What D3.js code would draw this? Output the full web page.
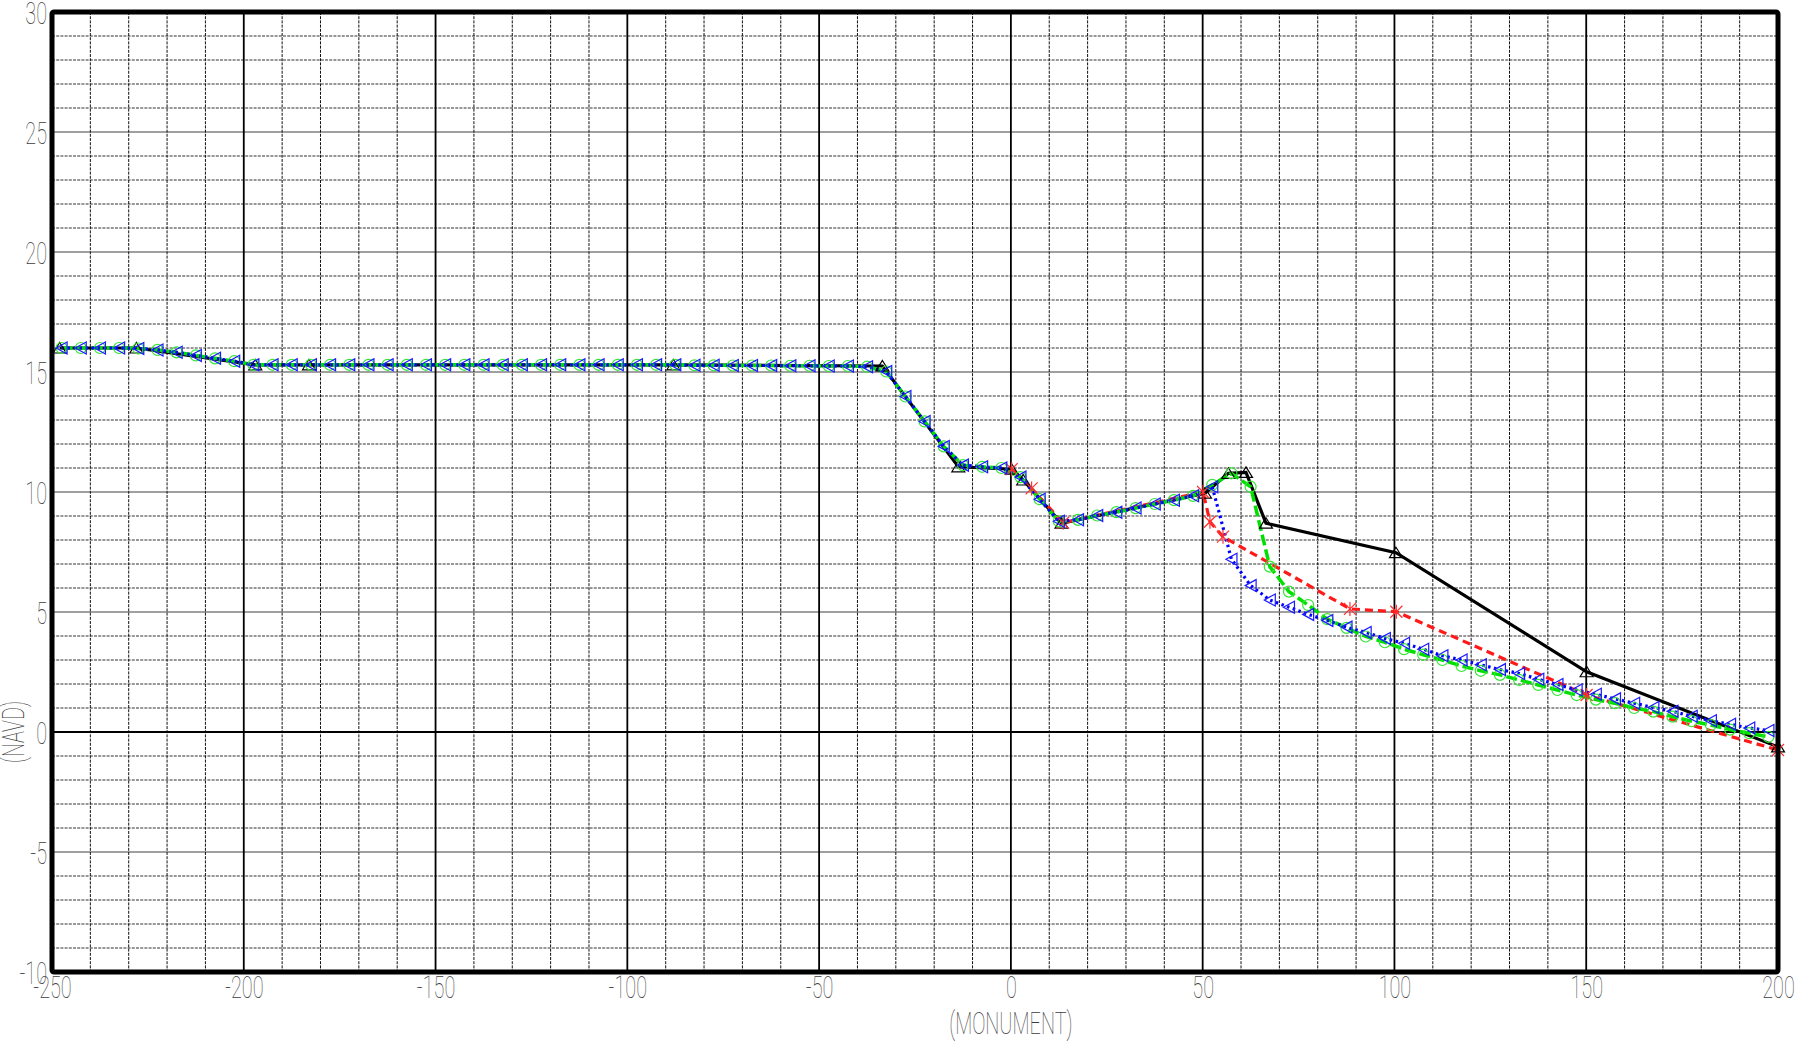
<!DOCTYPE html>
<html lang="en">
<head>
<meta charset="utf-8">
<title>Profile</title>
<script src="https://cdnjs.cloudflare.com/ajax/libs/d3/7.8.5/d3.min.js"></script>
<style>
  body { margin: 0; background: #fff; }
  svg { display: block; }
</style>
</head>
<body>
<div class="graph"></div>
<script>
// tick labels
const xTickVals = [-250, -200, -150, -100, -50, 0, 50, 100, 150, 200];
const xTickLabels = ['-250', '-200', '-150', '-100', '-50', '0', '50', '100', '150', '200'];
const yTickVals = [-10, -5, 0, 5, 10, 15, 20, 25, 30];
const yTickLabels = ['-10', '-5', '0', '5', '10', '15', '20', '25', '30'];

// black profile (solid, triangles)
const blackX = [-248, -228, -197, -183, -88, -33.5, -13.7, 0.2, 3.2, 13.2, 50.6, 56.7, 61.3, 66.5, 100.4, 150.1, 200];
const blackY = [16.0, 16.0, 15.3, 15.3, 15.3, 15.25, 11.05, 10.95, 10.5, 8.7, 9.95, 10.78, 10.82, 8.7, 7.47, 2.51, -0.62];

// red profile (dashed, stars)
const redX = [0.2, 5.4, 13.6, 50.1, 51.9, 55.3, 88.4, 100.5, 150.1, 200];
const redY = [10.95, 10.15, 8.72, 10.0, 8.76, 8.14, 5.13, 5.01, 1.54, -0.75];

// stations shared by green and blue profiles
const stations = [-247.5, -242.5, -237.5, -232.5, -227.5, -222.5, -217.5, -212.5, -207.5, -202.5,
  -197.5, -192.5, -187.5, -182.5, -177.5, -172.5, -167.5, -162.5, -157.5, -152.5,
  -147.5, -142.5, -137.5, -132.5, -127.5, -122.5, -117.5, -112.5, -107.5, -102.5,
  -97.5, -92.5, -87.5, -82.5, -77.5, -72.5, -67.5, -62.5, -57.5, -52.5,
  -47.5, -42.5, -37.5, -32.5, -27.5, -22.5, -17.5, -12.5, -7.5, -2.5,
  2.5, 7.5, 12.5, 17.5, 22.5, 27.5, 32.5, 37.5, 42.5, 47.5,
  52.5, 57.5, 62.5, 67.5, 72.5, 77.5, 82.5, 87.5, 92.5, 97.5,
  102.5, 107.5, 112.5, 117.5, 122.5, 127.5, 132.5, 137.5, 142.5, 147.5,
  152.5, 157.5, 162.5, 167.5, 172.5, 177.5, 182.5, 187.5, 192.5, 197.5];

// green profile (dashed, circles)
const greenY = [16.0, 16.0, 16.0, 16.0, 15.98, 15.92, 15.82, 15.69, 15.57, 15.45,
  15.3, 15.3, 15.3, 15.3, 15.3, 15.3, 15.3, 15.3, 15.3, 15.3,
  15.3, 15.3, 15.3, 15.3, 15.3, 15.3, 15.3, 15.3, 15.3, 15.3,
  15.3, 15.3, 15.3, 15.28, 15.28, 15.27, 15.27, 15.27, 15.26, 15.26,
  15.25, 15.25, 15.22, 15.02, 13.98, 12.94, 11.9, 11.12, 11.05, 11.0,
  10.62, 9.7, 8.78, 8.84, 9.02, 9.16, 9.33, 9.5, 9.66, 9.84,
  10.3, 10.78, 10.22, 6.89, 5.85, 5.29, 4.7, 4.34, 3.98, 3.74,
  3.45, 3.22, 3.0, 2.75, 2.55, 2.38, 2.17, 1.96, 1.75, 1.54,
  1.35, 1.2, 1.0, 0.85, 0.64, 0.45, 0.29, 0.1, -0.05, -0.2];

// blue profile (dotted, left triangles)
const blueY = [16.0, 16.0, 16.0, 16.0, 15.98, 15.92, 15.82, 15.69, 15.57, 15.45,
  15.3, 15.3, 15.3, 15.3, 15.3, 15.3, 15.3, 15.3, 15.3, 15.3,
  15.3, 15.3, 15.3, 15.3, 15.3, 15.3, 15.3, 15.3, 15.3, 15.3,
  15.3, 15.3, 15.3, 15.28, 15.28, 15.27, 15.27, 15.27, 15.26, 15.26,
  15.25, 15.25, 15.22, 15.02, 13.98, 12.94, 11.9, 11.12, 11.05, 11.0,
  10.62, 9.7, 8.78, 8.84, 9.02, 9.16, 9.33, 9.5, 9.66, 9.84,
  10.22, 7.2, 6.1, 5.5, 5.2, 4.9, 4.65, 4.37, 4.15, 3.9,
  3.7, 3.45, 3.18, 3.0, 2.8, 2.6, 2.44, 2.2, 1.98, 1.75,
  1.57, 1.38, 1.2, 1.02, 0.86, 0.66, 0.47, 0.32, 0.17, 0.06];

const w = 1801;
const h = 1043;
const padL = 52, padR = 1778, padT = 12, padB = 972;
const sx = 0.62; // narrow plotter-style text
const textCol = '#3c3c3c';
const font = 'Roboto, Lato, "DejaVu Sans", sans-serif';

const xScale = d3.scaleLinear().domain([-250, 200]).range([padL, padR]);
const yScale = d3.scaleLinear().domain([-10, 30]).range([padB, padT]);

const svg = d3.select('.graph')
  .append('svg')
  .attr('width', w)
  .attr('height', h);

// grid
const grid = svg.append('g').attr('class', 'grid');
const xMinor = d3.range(-240, 200, 10).filter(d => d % 50 !== 0);
const xMajor = d3.range(-200, 200, 50);
const yMinor = d3.range(-9, 30, 1).filter(d => d % 5 !== 0);
const yMajor = [-5, 5, 10, 15, 20, 25];

grid.selectAll('.hminor').data(yMinor).enter().append('line')
  .attr('x1', padL).attr('x2', padR)
  .attr('y1', d => yScale(d)).attr('y2', d => yScale(d))
  .attr('stroke', '#777').attr('stroke-width', 1.3)
  .attr('stroke-dasharray', '3,1.2');
grid.selectAll('.hmajor').data(yMajor).enter().append('line')
  .attr('x1', padL).attr('x2', padR)
  .attr('y1', d => yScale(d)).attr('y2', d => yScale(d))
  .attr('stroke', '#808080').attr('stroke-width', 1.4);
grid.selectAll('.vminor').data(xMinor).enter().append('line')
  .attr('y1', padT).attr('y2', padB)
  .attr('x1', d => xScale(d)).attr('x2', d => xScale(d))
  .attr('stroke', '#111').attr('stroke-width', 1)
  .attr('stroke-dasharray', '3,1.2');
grid.selectAll('.vmajor').data(xMajor).enter().append('line')
  .attr('y1', padT).attr('y2', padB)
  .attr('x1', d => xScale(d)).attr('x2', d => xScale(d))
  .attr('stroke', '#000').attr('stroke-width', 1.8);
grid.append('line')
  .attr('x1', padL).attr('x2', padR)
  .attr('y1', yScale(0)).attr('y2', yScale(0))
  .attr('stroke', '#000').attr('stroke-width', 1.8);

// marker shapes
const triUp = { draw(c) { c.moveTo(0, -5.5); c.lineTo(6.5, 5); c.lineTo(-6.5, 5); c.closePath(); } };
const triLeft = { draw(c) { c.moveTo(-5.5, 0); c.lineTo(5.5, -6); c.lineTo(5.5, 6); c.closePath(); } };
const star = { draw(c) {
  c.moveTo(-6, -6); c.lineTo(6, 6); c.moveTo(-6, 6); c.lineTo(6, -6);
  c.moveTo(0, -7); c.lineTo(0, 7);
} };

const line = d3.line().x(d => xScale(d[0])).y(d => yScale(d[1]));

const series = [
  { name: 'black', pts: blackX.map((d, i) => [d, blackY[i]]), col: '#000', width: 3.2, dash: null, shape: triUp, mcol: '#000' },
  { name: 'red', pts: redX.map((d, i) => [d, redY[i]]), col: '#ff1a1a', width: 3.2, dash: '8,5', shape: star, mcol: '#ff3030' },
  { name: 'green', pts: stations.map((d, i) => [d, greenY[i]]), col: '#00e000', width: 3.5, dash: '11,4', shape: d3.symbolCircle, mcol: '#33e633' },
  { name: 'blue', pts: stations.map((d, i) => [d, blueY[i]]), col: '#0000ff', width: 3.2, dash: '2.5,3.5', shape: triLeft, mcol: '#1a1aff' }
];

series.forEach(s => {
  svg.append('path')
    .datum(s.pts)
    .attr('class', 'line-' + s.name)
    .attr('d', line)
    .attr('fill', 'none')
    .attr('stroke', s.col)
    .attr('stroke-width', s.width)
    .attr('stroke-dasharray', s.dash);
});

series.forEach(s => {
  svg.append('g').attr('class', 'marks-' + s.name)
    .selectAll('path')
    .data(s.pts)
    .enter()
    .append('path')
    .attr('transform', d => 'translate(' + xScale(d[0]) + ',' + yScale(d[1]) + ')')
    .attr('d', d3.symbol().type(s.shape).size(95))
    .attr('fill', 'none')
    .attr('stroke', s.mcol)
    .attr('stroke-width', 1.2);
});

// frame
svg.append('rect')
  .attr('x', padL).attr('y', padT)
  .attr('width', padR - padL).attr('height', padB - padT)
  .attr('rx', 2)
  .attr('fill', 'none')
  .attr('stroke', '#000')
  .attr('stroke-width', 5);

// axes
const yAxis = d3.axisLeft(yScale)
  .tickValues(yTickVals)
  .tickFormat((d, i) => yTickLabels[i])
  .tickSize(0);
const gy = svg.append('g')
  .attr('id', 'y-axis')
  .attr('transform', 'translate(' + padL + ',0)')
  .call(yAxis);
gy.select('.domain').remove();
gy.attr('font-family', font).attr('font-size', 32);
gy.selectAll('text')
  .attr('x', -5 / sx)
  .attr('dy', '0.36em')
  .attr('transform', 'scale(' + sx + ',1)')
  .attr('fill', textCol)
  .attr('font-weight', 100);

const xAxis = d3.axisBottom(xScale)
  .tickValues(xTickVals)
  .tickFormat((d, i) => xTickLabels[i])
  .tickSize(0)
  .tickPadding(3);
const gx = svg.append('g')
  .attr('id', 'x-axis')
  .attr('transform', 'translate(0,' + padB + ')')
  .call(xAxis);
gx.select('.domain').remove();
gx.attr('font-family', font).attr('font-size', 32);
gx.selectAll('text')
  .attr('transform', 'scale(' + sx + ',1)')
  .attr('fill', textCol)
  .attr('font-weight', 100);

// axis titles
svg.append('text')
  .attr('transform', 'translate(' + xScale(0) + ',1034) scale(' + sx + ',1)')
  .attr('text-anchor', 'middle')
  .attr('font-family', font).attr('font-size', 32).attr('font-weight', 100)
  .attr('fill', textCol)
  .text('(MONUMENT)');
svg.append('text')
  .attr('transform', 'translate(24,' + yScale(0) + ') rotate(-90) scale(' + sx + ',1)')
  .attr('text-anchor', 'middle')
  .attr('font-family', font).attr('font-size', 32).attr('font-weight', 100)
  .attr('fill', textCol)
  .text('(NAVD)');
</script>
</body>
</html>
